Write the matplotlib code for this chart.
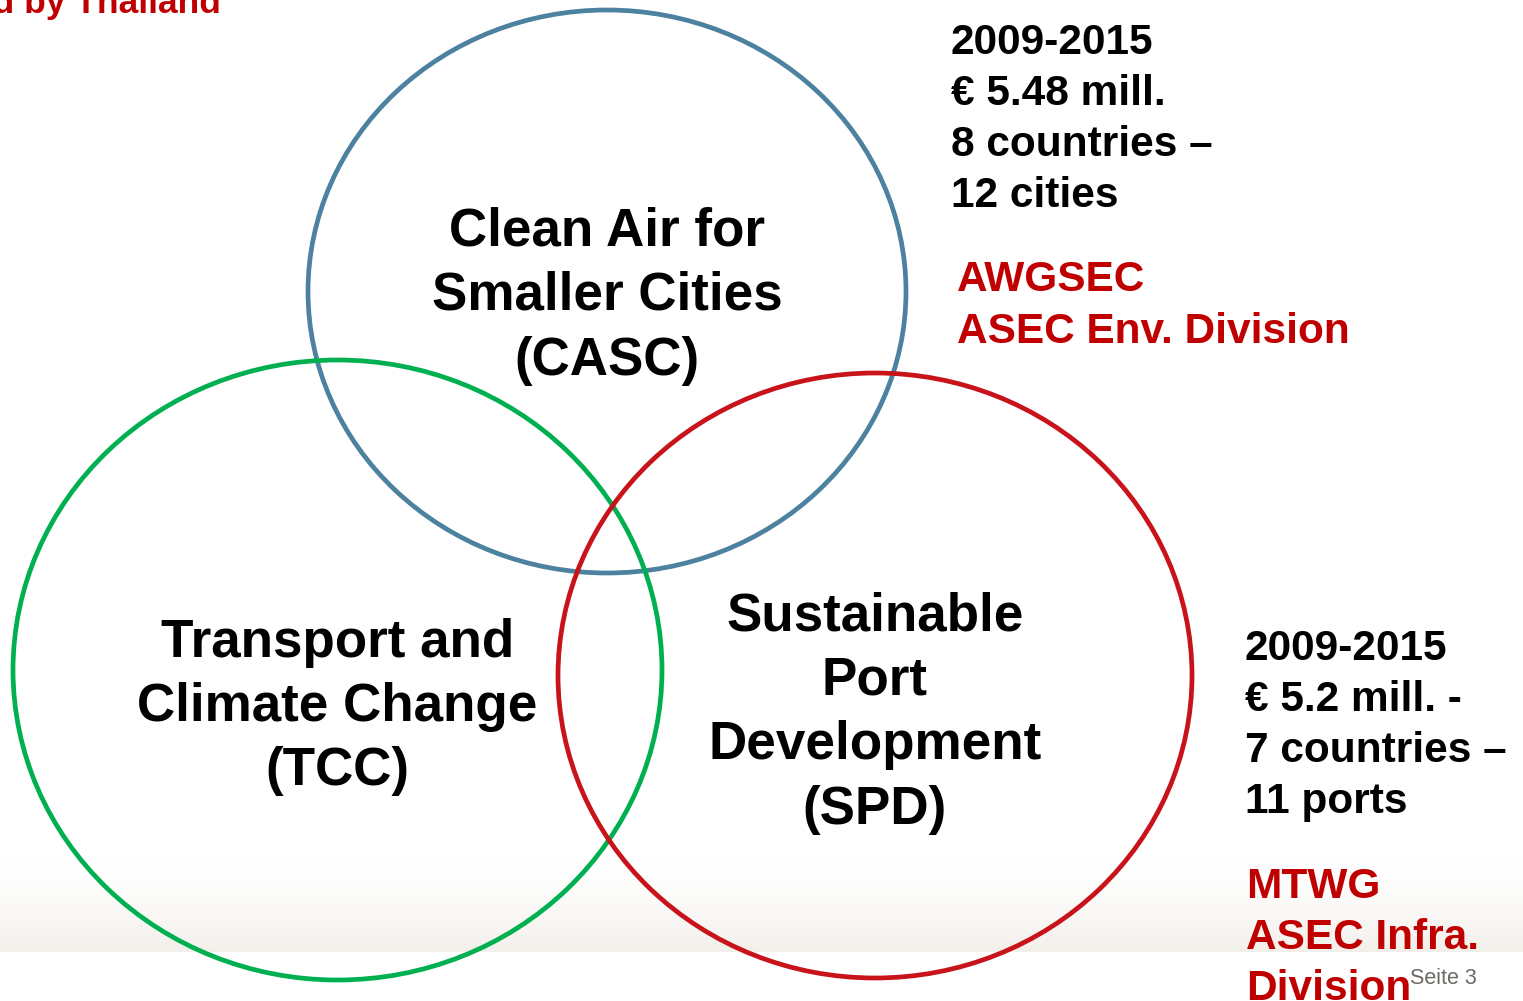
import numpy as np
import matplotlib
matplotlib.use("Agg")
import matplotlib.pyplot as plt
from matplotlib.patches import Ellipse

# ---- data ----
circle_names = ["CASC", "TCC", "SPD"]
circle_labels = [
    ["Clean Air for", "Smaller Cities", "(CASC)"],
    ["Transport and", "Climate Change", "(TCC)"],
    ["Sustainable", "Port", "Development", "(SPD)"],
]
circle_cx = [607, 337.5, 875]
circle_cy = [291.5, 670, 675.5]
circle_w = [598, 649, 634]
circle_h = [563, 620, 605]
circle_colors = ["#4C81A0", "#00B050", "#C8131B"]
label_cy = [296, 707, 713]

casc_info = ["2009-2015", "€ 5.48 mill.", "8 countries –", "12 cities"]
casc_partners = ["AWGSEC", "ASEC Env. Division"]
spd_info = ["2009-2015", "€ 5.2 mill. -", "7 countries –", "11 ports"]
spd_partners = ["MTWG", "ASEC Infra.", "Division"]

W, H = 1523, 1001
fig = plt.figure(figsize=(W / 100, H / 100), dpi=100)
ax = fig.add_axes([0, 0, 1, 1])
ax.set_xlim(0, W)
ax.set_ylim(H, 0)
ax.axis("off")

FONT = ["Liberation Sans", "DejaVu Sans"]

# footer gradient band
grad = np.linspace(0, 1, 100).reshape(-1, 1)
top = np.array([1.0, 1.0, 1.0])
bot = np.array([0.95, 0.94, 0.92])
img = top + (bot - top) * grad[..., None] ** 1.5
ax.imshow(img, extent=[0, W, 952, 860], aspect="auto", zorder=0)

for i in range(3):
    e = Ellipse((circle_cx[i], circle_cy[i]), circle_w[i], circle_h[i],
                fill=False, edgecolor=circle_colors[i], linewidth=3.4, zorder=2)
    ax.add_patch(e)

line_gap = 64.5
for i in range(3):
    lines = circle_labels[i]
    n = len(lines)
    for j, t in enumerate(lines):
        y = label_cy[i] + (j - (n - 1) / 2) * line_gap
        ax.text(circle_cx[i], y, t, ha="center", va="center", fontsize=38.2,
                fontweight="bold", family=FONT, color="black", zorder=3)

# info texts
for j, t in enumerate(casc_info):
    ax.text(951, 43 + j * 51, t, ha="left", va="center", fontsize=30.5,
            fontweight="bold", family=FONT, color="black")
for j, t in enumerate(casc_partners):
    ax.text(957, 280 + j * 52, t, ha="left", va="center", fontsize=30.5,
            fontweight="bold", family=FONT, color="#C00000")
for j, t in enumerate(spd_info):
    ax.text(1245, 649 + j * 51, t, ha="left", va="center", fontsize=30.5,
            fontweight="bold", family=FONT, color="black")
for j, t in enumerate(spd_partners):
    ax.text(1246, 887 + j * 51, t, ha="left", va="center", fontsize=30.5,
            fontweight="bold", family=FONT, color="#C00000")

ax.text(221, 4, "hosted by Thailand", ha="right", va="center", fontsize=25.5,
        fontweight="bold", family=FONT, color="#C00000")
ax.text(1410, 979, "Seite 3", ha="left", va="center", fontsize=15.5,
        family=FONT, color="#6D6A64")

fig.savefig("out.png", dpi=100)
